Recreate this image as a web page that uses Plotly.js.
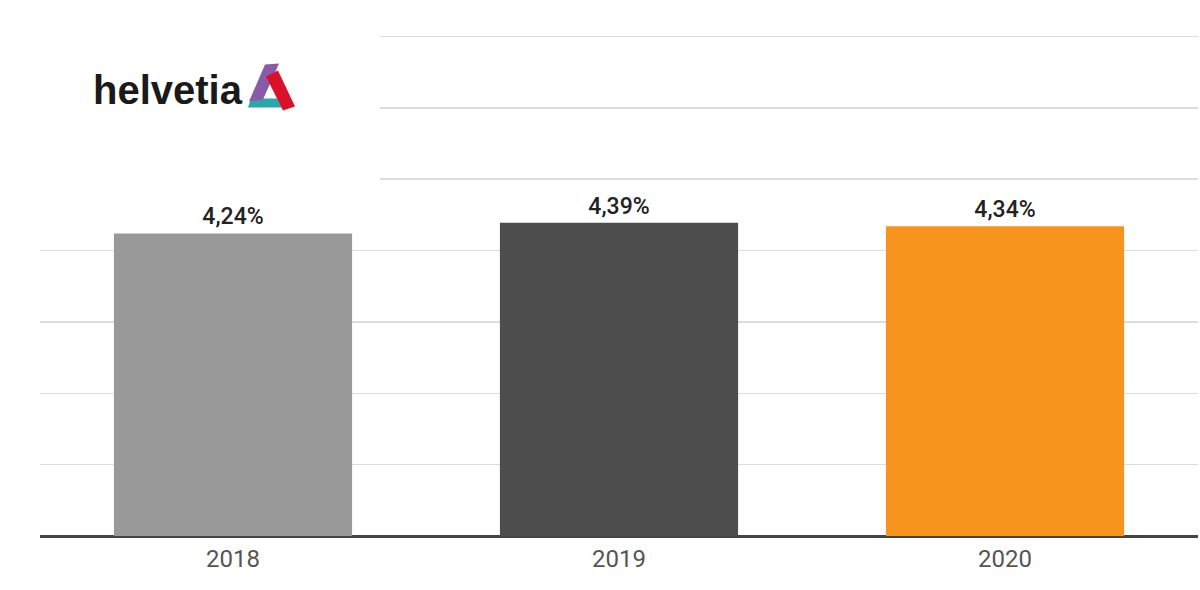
<!DOCTYPE html>
<html>
<head>
<meta charset="utf-8">
<script src="https://cdn.plot.ly/plotly-3.0.1.min.js"></script>
<style>html,body{margin:0;padding:0;background:#fff;}#chart{width:1200px;height:590px;}</style>
</head>
<body>
<div id="chart"></div>
<script>
// Data
var years = ['2018', '2019', '2020'];
var rates = [4.24, 4.39, 4.34];
var barColors = ['#999999', '#4d4d4d', '#f7941e'];

var W = 1200, H = 590;
var M = {l: 40, r: 2, t: 34.5, b: 54};
var PW = W - M.l - M.r, PH = H - M.t - M.b;
function px(x) { return (x - M.l) / PW; }
function py(y) { return (H - M.b - y) / PH; }
function poly(pts) {
  return 'M' + pts.map(function (p) { return px(p[0]) + ',' + py(p[1]); }).join(' L') + ' Z';
}

var trace = {
  type: 'bar',
  x: years,
  y: rates,
  marker: {color: barColors},
  texttemplate: '%{y:.2f}%',
  textposition: 'outside',
  cliponaxis: false,
  textfont: {family: 'Roboto, sans-serif', size: 23, color: '#222222', weight: 500},
  hoverinfo: 'none'
};

var shapes = [
  // white backdrop behind the logo (hides the gridlines there)
  {type: 'rect', xref: 'paper', yref: 'paper', x0: px(0), x1: px(380), y0: py(20), y1: py(195),
   fillcolor: '#ffffff', line: {width: 0}, layer: 'above'},
  // logo: teal base
  {type: 'path', xref: 'paper', yref: 'paper', layer: 'above', line: {width: 0}, fillcolor: '#2aa7a9',
   path: poly([[251, 98], [277, 98], [282, 107], [248, 107]])},
  // logo: purple left leg
  {type: 'path', xref: 'paper', yref: 'paper', layer: 'above', line: {width: 0}, fillcolor: '#8a5aa8',
   path: poly([[249, 101], [265, 64], [279, 63], [263, 99]])},
  // logo: red right leg
  {type: 'path', xref: 'paper', yref: 'paper', layer: 'above', line: {width: 0}, fillcolor: '#d9122a',
   path: poly([[266, 76], [278, 70], [295, 106], [283, 110]])}
];

var layout = {
  width: W, height: H,
  margin: M,
  paper_bgcolor: '#ffffff', plot_bgcolor: '#ffffff',
  separators: ',.',
  showlegend: false,
  bargap: 0.383,
  font: {family: 'Roboto, sans-serif'},
  xaxis: {
    type: 'category',
    showgrid: false, showline: false, zeroline: false,
    ticks: '', ticklabelstandoff: 6,
    tickfont: {family: 'Roboto, sans-serif', size: 24, color: '#555555'},
    fixedrange: true
  },
  yaxis: {
    range: [0, 7.02], dtick: 1, tick0: 0,
    showticklabels: false, ticks: '',
    showgrid: true, gridcolor: '#dcdcdc', gridwidth: 1.5,
    zeroline: true, zerolinecolor: '#444444', zerolinewidth: 3,
    fixedrange: true
  },
  shapes: shapes,
  annotations: [
    {xref: 'paper', yref: 'paper', x: px(91), y: py(90), xanchor: 'left', yanchor: 'middle',
     text: 'helvetia', showarrow: false,
     font: {family: 'Liberation Sans, Arial, sans-serif', size: 40, color: '#1a1a1a', weight: 'bold'}}
  ]
};

Plotly.newPlot('chart', [trace], layout, {displayModeBar: false, staticPlot: true});
</script>
</body>
</html>
